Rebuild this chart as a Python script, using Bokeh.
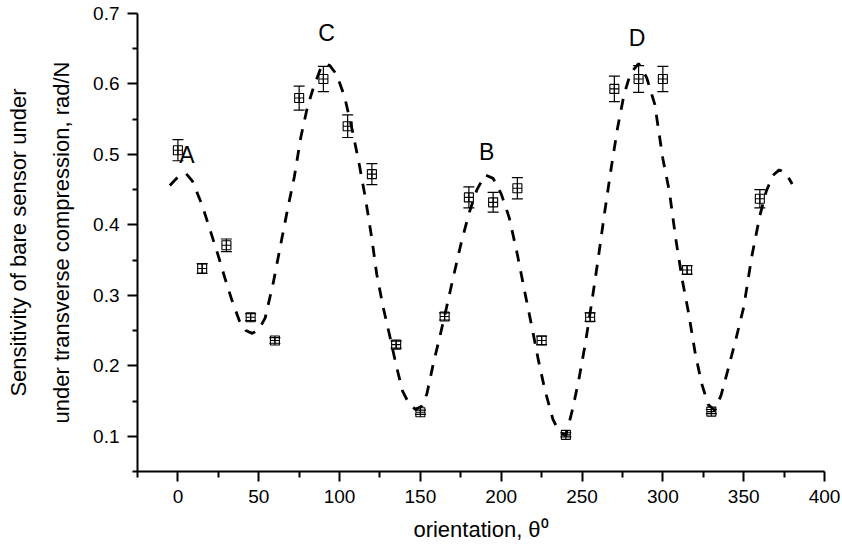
from bokeh.plotting import figure
from bokeh.models import Range1d, FixedTicker, Whisker, ColumnDataSource, Title
from bokeh.embed import file_html
from bokeh.resources import INLINE
from bokeh.core.properties import value

# measured sensitivity vs orientation
angles = [0, 15, 30, 45, 60, 75, 90, 105, 120, 135, 150, 165, 180, 195, 210,
          225, 240, 255, 270, 285, 300, 315, 330, 360]
sens = [0.506, 0.338, 0.371, 0.269, 0.236, 0.580, 0.607, 0.540, 0.472, 0.230,
        0.134, 0.270, 0.439, 0.432, 0.452, 0.236, 0.102, 0.269, 0.593, 0.607,
        0.607, 0.336, 0.135, 0.437]
err = [0.015, 0.007, 0.009, 0.005, 0.004, 0.017, 0.018, 0.016, 0.015, 0.005,
       0.003, 0.005, 0.015, 0.014, 0.015, 0.006, 0.003, 0.006, 0.018, 0.019,
       0.018, 0.006, 0.003, 0.013]

# dashed fit curve
curve_x = [-5, 0, 5, 9, 15, 20, 25, 29, 33, 38, 42, 46, 50, 54, 59, 64, 68, 72, 76,
           80, 84, 88, 91, 94, 98, 103, 108, 112, 116, 120, 123, 127, 131, 135, 139,
           143, 147, 151, 154, 158, 162, 166, 170, 175, 180, 185, 190, 195, 200, 205,
           210, 215, 219, 223, 227, 232, 236, 240, 244, 248, 252, 256, 260, 264, 268,
           272, 276, 280, 285, 290, 295, 300, 304, 308, 312, 316, 320, 324, 328, 332,
           336, 340, 345, 350, 355, 360, 364, 368, 372, 376, 380]
curve_y = [0.456, 0.468, 0.473, 0.462, 0.428, 0.392, 0.356, 0.325, 0.296, 0.264,
           0.250, 0.246, 0.251, 0.268, 0.318, 0.377, 0.424, 0.468, 0.524, 0.566,
           0.596, 0.620, 0.629, 0.626, 0.614, 0.583, 0.533, 0.488, 0.438, 0.380,
           0.330, 0.283, 0.243, 0.201, 0.164, 0.146, 0.138, 0.143, 0.160, 0.203,
           0.241, 0.281, 0.322, 0.372, 0.416, 0.450, 0.471, 0.466, 0.444, 0.410,
           0.358, 0.300, 0.255, 0.208, 0.166, 0.124, 0.106, 0.101, 0.137, 0.180,
           0.231, 0.290, 0.352, 0.418, 0.480, 0.538, 0.585, 0.615, 0.629, 0.609,
           0.571, 0.494, 0.448, 0.380, 0.322, 0.274, 0.218, 0.175, 0.145, 0.137,
           0.158, 0.192, 0.236, 0.283, 0.355, 0.413, 0.448, 0.470, 0.478, 0.474,
           0.458]

# peak letters
letters = ["A", "C", "B", "D"]
letter_x = [5.5, 92, 191, 284]
letter_y = [0.499, 0.672, 0.503, 0.665]

x_ticks = [0, 50, 100, 150, 200, 250, 300, 350, 400]
x_minor = [-25, 25, 75, 125, 175, 225, 275, 325, 375]
y_ticks = [0.1, 0.2, 0.3, 0.4, 0.5, 0.6, 0.7]
y_minor = [0.05, 0.15, 0.25, 0.35, 0.45, 0.55, 0.65]

FONT = "Liberation Sans"

p = figure(width=842, height=554, output_backend="svg", toolbar_location=None,
           x_range=Range1d(-25, 400), y_range=Range1d(0.05, 0.7),
           min_border_left=137, min_border_right=18, min_border_top=13,
           min_border_bottom=83)
p.outline_line_color = None
p.xgrid.visible = False
p.ygrid.visible = False
p.background_fill_color = "white"
p.border_fill_color = "white"

for ax in (p.xaxis[0], p.yaxis[0]):
    ax.axis_line_width = 2
    ax.major_tick_line_width = 2
    ax.minor_tick_line_width = 2
    ax.major_tick_in = 0
    ax.minor_tick_in = 0
    ax.major_tick_out = 10
    ax.minor_tick_out = 5
    ax.major_label_text_font = FONT
    ax.major_label_text_font_size = "19px"
    ax.major_label_text_color = "black"
    ax.axis_label_text_font = FONT
    ax.axis_label_text_font_size = "22px"
    ax.axis_label_text_font_style = "normal"
    ax.axis_label_text_color = "black"
    ax.major_label_standoff = 8

p.xaxis[0].ticker = FixedTicker(ticks=x_ticks, minor_ticks=x_minor)
p.yaxis[0].ticker = FixedTicker(ticks=y_ticks, minor_ticks=y_minor)
p.xaxis[0].minor_tick_out = 6
p.xaxis[0].axis_label = "orientation, θ⁰"
p.xaxis[0].axis_label_standoff = 11

# two-line y title, each line as its own vertical title
t2 = Title(text="under transverse compression, rad/N", align="center", offset=47,
           text_font=FONT, text_font_size="22px", text_font_style="normal",
           text_color="black", standoff=33)
t1 = Title(text="Sensitivity of bare sensor under", align="center", offset=47,
           text_font=FONT, text_font_size="22px", text_font_style="normal",
           text_color="black", standoff=0)
p.add_layout(t2, "left")
p.add_layout(t1, "left")

# fit curve
p.line(curve_x, curve_y, line_color="black", line_width=2.8, line_dash="11 10")

# error bars
lo = [v - e for v, e in zip(sens, err)]
hi = [v + e for v, e in zip(sens, err)]
src = ColumnDataSource(dict(x=angles, y=sens, lo=lo, hi=hi))
w = Whisker(base="x", upper="hi", lower="lo", source=src,
            line_color="black", line_width=1.2)
w.upper_head.size = 11
w.lower_head.size = 11
w.upper_head.line_width = 1.2
w.lower_head.line_width = 1.2
p.add_layout(w)

p.scatter("x", "y", source=src, marker="square_cross", size=9,
          fill_color=None, line_color="black", line_width=1.1)

p.text(x=letter_x, y=letter_y, text=letters, text_align="center",
       text_baseline="middle", text_font=value(FONT), text_font_size="23px",
       text_color="black")

open("out.html", "w").write(file_html(p, INLINE))
